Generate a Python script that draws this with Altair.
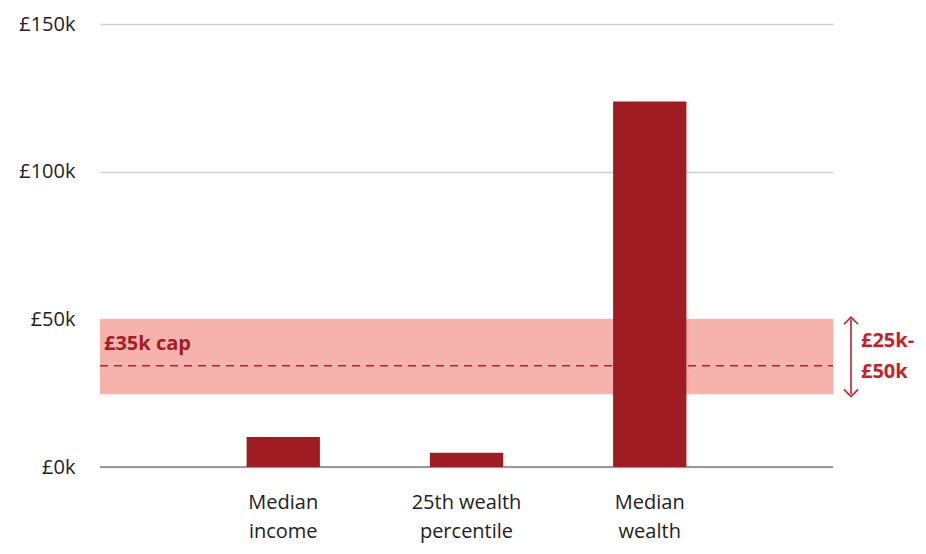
import altair as alt
import pandas as pd

categories = ["Median income", "25th wealth percentile", "Median wealth"]
values = [10200, 4800, 123800]
band_low = [24600]
band_high = [50000]
cap_value = [34300]
cap_label = ["£35k cap"]
range_labels = ["£25k-", "£50k"]
range_label_y = [42500, 32000]
y_ticks = [0, 50000, 100000, 150000]

FONT = "Open Sans"
BAR = "#9e1c22"
BAND = "#f6b3ae"
RED = "#c81f2b"

bars_df = pd.DataFrame({"cat": categories, "value": values})
band_df = pd.DataFrame({"lo": band_low, "hi": band_high})
cap_df = pd.DataFrame({"y": cap_value, "label": cap_label})
rng_df = pd.DataFrame({"label": range_labels, "y": range_label_y})
zero_df = pd.DataFrame({"y": [0]})

W, H = 733, 443

yscale = alt.Scale(domain=[0, 150000], nice=False)

band = alt.Chart(band_df).mark_rect(color=BAND).encode(
    x=alt.value(0), x2=alt.value(W),
    y=alt.Y("lo:Q", scale=yscale,
            axis=alt.Axis(values=y_ticks, labelExpr="'£' + datum.value/1000 + 'k'",
                          title=None, domain=False, ticks=False, grid=True,
                          gridColor="#cfcfcf", gridWidth=1.5, labelPadding=25,
                          labelFontSize=20, labelFont=FONT, labelColor="#222")),
    y2="hi:Q",
)

cap_line = alt.Chart(cap_df).mark_rule(color="#b3242c", strokeDash=[8, 6], strokeWidth=1.6).encode(
    x=alt.value(0), x2=alt.value(W), y=alt.Y("y:Q", scale=yscale)
)

zero = alt.Chart(zero_df).mark_rule(color="#999999", strokeWidth=2).encode(
    x=alt.value(0), x2=alt.value(W), y=alt.Y("y:Q", scale=yscale)
)

bars = alt.Chart(bars_df).mark_bar(color=BAR).encode(
    x=alt.X("cat:N", sort=categories,
            scale=alt.Scale(paddingInner=0.6, paddingOuter=0.8),
            axis=alt.Axis(title=None, labelAngle=0, domain=False, ticks=False,
                          labelFontSize=20, labelFont=FONT, labelColor="#222",
                          labelPadding=25, labelLineHeight=29,
                          labelExpr="datum.value == 'Median income' ? ['Median','income'] : datum.value == '25th wealth percentile' ? ['25th wealth','percentile'] : ['Median','wealth']")),
    y=alt.Y("value:Q", scale=yscale),
)

cap_text = alt.Chart(cap_df).mark_text(
    align="left", baseline="middle", font=FONT, fontSize=20, fontWeight="bold",
    color="#a51c24", dy=-22
).encode(x=alt.value(4), y=alt.Y("y:Q", scale=yscale), text="label:N")

arrow = alt.Chart(band_df).mark_rule(color=RED, strokeWidth=1.6).encode(
    x=alt.value(751), y=alt.Y("lo:Q", scale=yscale), y2="hi:Q"
)
arrow_top = alt.Chart(band_df).mark_point(
    shape="M-1,0.7L0,-0.3L1,0.7", filled=False, color=RED, strokeWidth=1.6, size=200, opacity=1
).encode(x=alt.value(751), y=alt.Y("hi:Q", scale=yscale))
arrow_bot = alt.Chart(band_df).mark_point(
    shape="M-1,-0.7L0,0.3L1,-0.7", filled=False, color=RED, strokeWidth=1.6, size=200, opacity=1
).encode(x=alt.value(751), y=alt.Y("lo:Q", scale=yscale))

rng_text = alt.Chart(rng_df).mark_text(
    align="left", baseline="middle", font=FONT, fontSize=20, fontWeight="bold", color=RED
).encode(x=alt.value(761), y=alt.Y("y:Q", scale=yscale), text="label:N")

chart = alt.layer(band, cap_line, zero, bars, cap_text, arrow, arrow_top, arrow_bot, rng_text).properties(
    width=W, height=H,
    autosize=alt.AutoSizeParams(type="none"),
    padding={"left": 92, "top": 16, "right": 85, "bottom": 79},
).configure_view(stroke=None)

chart.save("out.html", embed_options={"renderer": "svg", "actions": False})
